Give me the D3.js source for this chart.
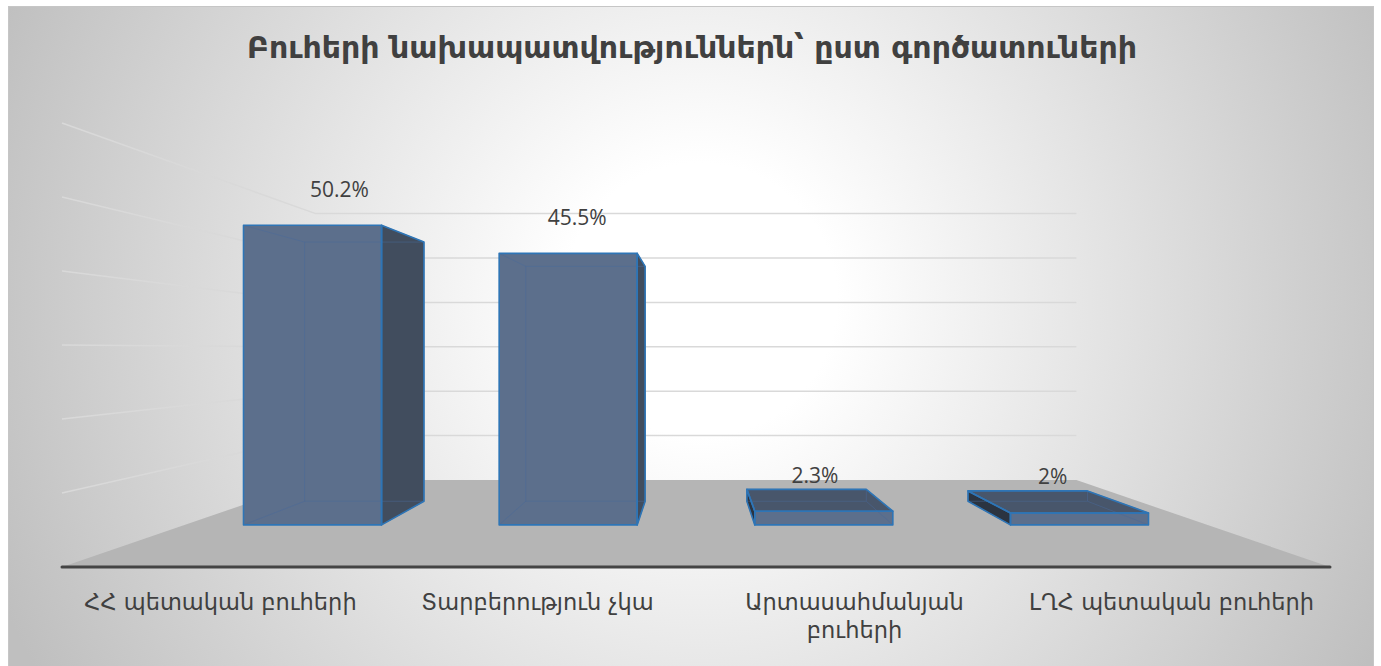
<!DOCTYPE html>
<html lang="hy">
<head>
<meta charset="UTF-8">
<title>Բուհերի նախապատվությունները</title>
<style>
  body { margin: 0; background: #fff; }
  svg { display: block; }
  .title { font-family: "DejaVu Sans", sans-serif; font-weight: bold; fill: #404040; }
  .cat { font-family: "DejaVu Sans", sans-serif; fill: #404040; }
  .val { font-family: "Open Sans", "DejaVu Sans", sans-serif; fill: #404040; }
</style>
</head>
<body>
<svg id="chart" width="1381" height="666"></svg>
<script src="https://d3js.org/d3.v7.min.js"></script>
<script>
// chart data
const categories = ["ՀՀ պետական բուհերի", "Տարբերություն չկա", "Արտասահմանյան բուհերի", "ԼՂՀ պետական բուհերի"];
const values = [50.2, 45.5, 2.3, 2];
const valueLabels = ["50.2%", "45.5%", "2.3%", "2%"];
const yTicks = [10, 20, 30, 40, 50, 60];
const title = "Բուհերի նախապատվություններն՝ ըստ գործատուների";

const svg = d3.select("#chart");

// background with radial gradient
const defs = svg.append("defs");
const grad = defs.append("radialGradient")
    .attr("id", "bg")
    .attr("gradientUnits", "userSpaceOnUse")
    .attr("cx", 700).attr("cy", 300).attr("r", 760);
grad.append("stop").attr("offset", 0).attr("stop-color", "#ffffff");
grad.append("stop").attr("offset", 0.18).attr("stop-color", "#ffffff");
grad.append("stop").attr("offset", 1).attr("stop-color", "#bfbfbf");

svg.append("rect")
    .attr("x", 8.5).attr("y", 6.5)
    .attr("width", 1365).attr("height", 670)
    .attr("fill", "url(#bg)")
    .attr("stroke", "#c6c6c6");

// front plane scales, then a simple perspective projection into depth
const x = d3.scaleBand().domain(categories).range([62, 1330]);
const y = d3.scaleLinear().domain([0, 60]).range([567, 123]);
const vp = { x: 696, y: 349.5 };
const depthK = 2 / 3;
function proj(xf, yf, z) {
    const s = 1 / (1 + depthK * z);
    return [vp.x + s * (xf - vp.x), vp.y + s * (yf - vp.y)];
}
const line = d3.line();

// floor
const [fx0, fx1] = x.range();
svg.append("path")
    .attr("d", line([proj(fx0, y(0), 0), proj(fx1, y(0), 0), proj(fx1, y(0), 1), proj(fx0, y(0), 1)]) + "Z")
    .attr("fill", "#b5b5b5");

// gridlines on side wall and back wall
const grid = svg.append("g").attr("stroke", "#d9d9d9").attr("stroke-width", 1.5).attr("fill", "none");
yTicks.forEach(t => {
    grid.append("path").attr("d", line([proj(fx0, y(t), 0), proj(fx0, y(t), 1), proj(fx1, y(t), 1)]));
});

// axis line at the front of the floor
svg.append("line")
    .attr("x1", fx0).attr("x2", fx1)
    .attr("y1", y(0)).attr("y2", y(0))
    .attr("stroke", "#444").attr("stroke-width", 3).attr("stroke-linecap", "round");

// 3D bars
const z0 = 0.36, z1 = 0.65;
const bw = x.bandwidth() * 0.54;
const bars = svg.append("g");

values.forEach((v, i) => {
    const cx = x(categories[i]) + x.bandwidth() / 2;
    const xa = cx - bw / 2, xb = cx + bw / 2;
    const ya = y(0), yb = y(v);
    const P = (xx, yy, zz) => proj(xx, yy, zz);
    const faces = [];
    if (xb < vp.x) faces.push({ pts: [P(xb, ya, z0), P(xb, ya, z1), P(xb, yb, z1), P(xb, yb, z0)], fill: "#414d5e" });
    if (xa > vp.x) faces.push({ pts: [P(xa, ya, z0), P(xa, ya, z1), P(xa, yb, z1), P(xa, yb, z0)], fill: "#2b3441" });
    if (yb > vp.y) faces.push({ pts: [P(xa, yb, z0), P(xb, yb, z0), P(xb, yb, z1), P(xa, yb, z1)], fill: "#48566b" });
    faces.push({ pts: [P(xa, ya, z0), P(xb, ya, z0), P(xb, yb, z0), P(xa, yb, z0)], fill: "#5c6f8c" });

    const g = bars.append("g");
    faces.forEach(f => g.append("path").attr("d", line(f.pts) + "Z").attr("fill", f.fill));

    // hidden edges show faintly through the bar
    const edges = [
        [P(xa, ya, z1), P(xb, ya, z1)], [P(xa, yb, z1), P(xb, yb, z1)],
        [P(xa, ya, z1), P(xa, yb, z1)], [P(xb, ya, z1), P(xb, yb, z1)],
        [P(xa, ya, z0), P(xa, ya, z1)], [P(xb, ya, z0), P(xb, ya, z1)],
        [P(xa, yb, z0), P(xa, yb, z1)], [P(xb, yb, z0), P(xb, yb, z1)]
    ];
    edges.forEach(e => g.append("path").attr("d", line(e))
        .attr("stroke", "#4a6a99").attr("stroke-opacity", 0.5).attr("stroke-width", 1).attr("fill", "none"));

    faces.forEach(f => g.append("path").attr("d", line(f.pts) + "Z")
        .attr("fill", "none").attr("stroke", "#2e75b6").attr("stroke-width", 1.6).attr("stroke-linejoin", "round"));

    // data label
    const lx = proj(cx, 0, 0.5)[0];
    const ly = proj(cx, y(v + 4.8), z0)[1];
    svg.append("text").attr("class", "val")
        .attr("x", lx).attr("y", ly)
        .attr("text-anchor", "middle")
        .attr("font-size", 21)
        .text(valueLabels[i]);
});

// category labels, wrapped to the band width
categories.forEach(c => {
    const cx = x(c) + x.bandwidth() / 2;
    const t = svg.append("text").attr("class", "cat")
        .attr("x", cx).attr("y", 610)
        .attr("text-anchor", "middle").attr("font-size", 22.5);
    const words = c.split(" ");
    let lineWords = [], tspan = t.append("tspan").attr("x", cx);
    words.forEach(w => {
        lineWords.push(w);
        tspan.text(lineWords.join(" "));
        if (tspan.node().getComputedTextLength() > 295 && lineWords.length > 1) {
            lineWords.pop();
            tspan.text(lineWords.join(" "));
            lineWords = [w];
            tspan = t.append("tspan").attr("x", cx).attr("dy", 28).text(w);
        }
    });
});

// title
svg.append("text").attr("class", "title")
    .attr("x", 692).attr("y", 58)
    .attr("text-anchor", "middle")
    .attr("font-size", 30)
    .text(title);
</script>
</body>
</html>
